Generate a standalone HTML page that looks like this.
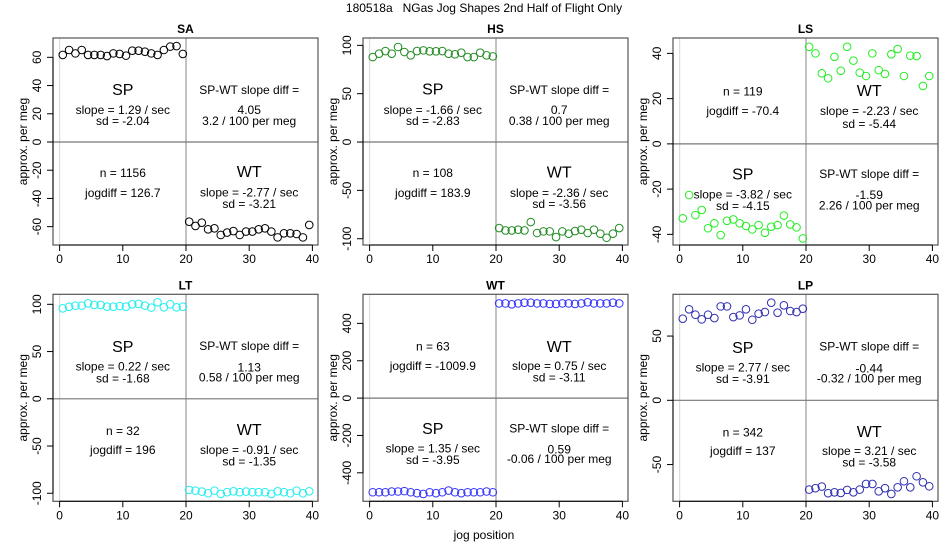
<!DOCTYPE html>
<html><head><meta charset="utf-8"><style>
html,body{margin:0;padding:0;background:#fff;}
svg{display:block;font-family:"Liberation Sans",Arial,sans-serif;}
</style></head><body>
<svg id="chart" width="950" height="550" viewBox="0 0 950 550" xmlns="http://www.w3.org/2000/svg">
<text x="484" y="12" text-anchor="middle" font-size="12" fill="#000">180518a&#160;&#160;&#160;NGas Jog Shapes 2nd Half of Flight Only</text>
<text x="484" y="539" text-anchor="middle" font-size="12" fill="#000">jog position</text>
</svg>
<script>
const xTicks = [0, 10, 20, 30, 40];
const panelNames = ["SA", "HS", "LS", "LT", "WT", "LP"];
const saSP = [61.7,65.2,62.8,65.2,61.7,61.7,61.7,60.9,62.8,62.4,61.2,64.7,64.7,64,62.8,61.7,65.2,67.6,68,62.4];
const saWT = [-56.5,-59.5,-57.2,-61.9,-61.2,-65.9,-64.2,-63.1,-65.9,-63.5,-63.5,-61.9,-61.2,-63.5,-67.6,-64.7,-64.7,-65.2,-67.6,-58.8];
const hsSP = [87.9,91.4,94.1,91.4,98.3,93.1,89.7,94.1,94.8,93.8,93.8,94.1,91.4,90.7,92.4,87.9,87.9,92.4,89.7,88.6];
const hsWT = [-89,-91.4,-91.4,-90.7,-91.4,-82.8,-94.1,-92.4,-92.4,-98.3,-92.4,-94.8,-92.1,-90.7,-94.1,-90.7,-94.8,-99,-94.8,-89];
const lsSP = [-32.9,-22.6,-31.5,-29.2,-37.3,-35.1,-40.3,-34,-33.4,-35.1,-36.3,-37.8,-35.9,-39.3,-36.6,-35.9,-31.7,-35.6,-36.9,-41.8];
const lsWT = [42.9,40,31.2,29,38.5,32.3,42.9,36.8,31.5,30,40,32.6,30.9,39.6,41.9,30,39,38.8,25.6,30];
const ltSP = [95.8,97.5,98.6,98.6,101.1,99.3,99.3,97.5,97.5,98.2,97.5,100,100.4,98.6,96.5,102.1,96.8,100,96.8,97.5];
const ltWT = [-96.5,-97.2,-98.2,-100,-97.2,-100.7,-98.9,-97.9,-98.9,-98.2,-98.9,-98.9,-98.9,-100.7,-97.9,-98.9,-100,-97.2,-100,-97.9];
const wtSP = [-504,-504,-504,-500,-500,-498,-504,-509,-513,-504,-509,-504,-495,-504,-509,-504,-504,-504,-500,-504];
const wtWT = [507,507,502,507,511,511,507,507,504,504,507,507,504,507,513,507,507,507,511,507];
const lpSP = [63.5,70.8,66.6,63,66.6,64,73.1,73.1,64.8,66.1,70.8,62.7,67.4,68.7,76,68.2,73.9,69.5,68.7,71.3];
const lpWT = [-69.5,-68.4,-67.1,-72.3,-71.6,-72.1,-69.7,-71.6,-69.5,-65.1,-65.1,-70.8,-68.4,-72.9,-67.7,-63,-67.7,-59.1,-63.8,-66.9];
const saTicks = [-60,-40,-20,0,20,40,60];
const hsTicks = [-100,-50,0,50,100];
const lsTicks = [-40,-20,0,20,40];
const ltTicks = [-100,-50,0,50,100];
const wtTicks = [-400,-200,0,200,400];
const lpTicks = [-50,0,50];

const NS = "http://www.w3.org/2000/svg";
const svg = document.getElementById("chart");
function mk(tag, attrs, parent) {
  const e = document.createElementNS(NS, tag);
  for (const k in attrs) e.setAttribute(k, attrs[k]);
  (parent || svg).appendChild(e);
  return e;
}
function txt(x, y, s, size, parent, extra) {
  const t = mk("text", Object.assign({x: x, y: y, "font-size": size, "text-anchor": "middle", "dominant-baseline": "central", fill: "#000"}, extra || {}), parent);
  t.textContent = s;
  return t;
}
const W = 265, H = 207;
const panels = [
  {name: panelNames[0], L: 53, T: 38, ymax: 73.7, ymin: -73, ticks: saTicks, sp: saSP, wt: saWT, col: "#000000",
   texts: [["SP",10,90.7,16],["slope = 1.29 / sec",10,110,12],["sd = -2.04",10,121,12],["SP-WT slope diff =",30,90,12],["4.05",30,110,12],["3.2 / 100 per meg",30,121,12],["n = 1156",10,173,12],["jogdiff = 126.7",10,193,12],["WT",30,172.7,16],["slope = -2.77 / sec",30,192.7,12],["sd = -3.21",30,204,12]]},
  {name: panelNames[1], L: 363, T: 38, ymax: 107.6, ymin: -106.5, ticks: hsTicks, sp: hsSP, wt: hsWT, col: "#228B22",
   texts: [["SP",10,90,16],["slope = -1.66 / sec",10,110,12],["sd = -2.83",10,121,12],["SP-WT slope diff =",30,90,12],["0.7",30,110,12],["0.38 / 100 per meg",30,121,12],["n = 108",10,173,12],["jogdiff = 183.9",10,193,12],["WT",30,173,16],["slope = -2.36 / sec",30,193,12],["sd = -3.56",30,204,12]]},
  {name: panelNames[2], L: 673, T: 38, ymax: 46.8, ymin: -44.7, ticks: lsTicks, sp: lsSP, wt: lsWT, col: "#22ee22",
   texts: [["n = 119",10,91.7,12],["jogdiff = -70.4",10,111,12],["WT",30,91.7,16],["slope = -2.23 / sec",30,111,12],["sd = -5.44",30,124,12],["SP",10,175,16],["slope = -3.82 / sec",10,194.3,12],["sd = -4.15",10,206,12],["SP-WT slope diff =",30,174,12],["-1.59",30,195,12],["2.26 / 100 per meg",30,205.7,12]]},
  {name: panelNames[3], L: 53, T: 294.3, ymax: 110.6, ymin: -108.5, ticks: ltTicks, sp: ltSP, wt: ltWT, col: "#22eeee",
   texts: [["SP",10,347.3,16],["slope = 0.22 / sec",10,366.7,12],["sd = -1.68",10,378.3,12],["SP-WT slope diff =",30,346,12],["1.13",30,367.3,12],["0.58 / 100 per meg",30,377.3,12],["n = 32",10,431,12],["jogdiff = 196",10,450,12],["WT",30,430.7,16],["slope = -0.91 / sec",30,450,12],["sd = -1.35",30,461.7,12]]},
  {name: panelNames[4], L: 363, T: 294.3, ymax: 555.7, ymin: -552.5, ticks: wtTicks, sp: wtSP, wt: wtWT, col: "#3333ff",
   texts: [["n = 63",10,346.7,12],["jogdiff = -1009.9",10,366,12],["WT",30,347.3,16],["slope = 0.75 / sec",30,366,12],["sd = -3.11",30,377.3,12],["SP",10,429.3,16],["slope = 1.35 / sec",10,448.3,12],["sd = -3.95",10,460,12],["SP-WT slope diff =",30,428.3,12],["0.59",30,449.3,12],["-0.06 / 100 per meg",30,459,12]]},
  {name: panelNames[5], L: 673, T: 294.3, ymax: 82.5, ymin: -78.6, ticks: lpTicks, sp: lpSP, wt: lpWT, col: "#2e2eb0",
   texts: [["SP",10,348.3,16],["slope = 2.77 / sec",10,367.3,12],["sd = -3.91",10,379,12],["SP-WT slope diff =",30,346.7,12],["-0.44",30,368.3,12],["-0.32 / 100 per meg",30,378.3,12],["n = 342",10,432.3,12],["jogdiff = 137",10,451,12],["WT",30,432.3,16],["slope = 3.21 / sec",30,451,12],["sd = -3.58",30,462.7,12]]}
];

panels.forEach(function(p) {
  const g = mk("g", {});
  
  
  const xs = function(v) { return p.L + 6.6 + v * 6.32; };
  const ys = function(v) { return p.T + (p.ymax - v) / (p.ymax - p.ymin) * H; };
  const tt = txt(p.L + W / 2, p.T - 9, p.name, 12, g, {"font-weight": "bold"});
  
  
  const z = mk("line", {x1: xs(0), x2: xs(0), y1: p.T, y2: p.T + H, stroke: "#dddddd", "stroke-width": 1.2}, g);
  
  
  const v = mk("line", {x1: xs(20), x2: xs(20), y1: p.T, y2: p.T + H, stroke: "#999999", "stroke-width": 1.2}, g);
  
  
  const h = mk("line", {x1: p.L, x2: p.L + W, y1: ys(0), y2: ys(0), stroke: "#777777", "stroke-width": 1.2}, g);
  
  
  const b = mk("rect", {x: p.L, y: p.T, width: W, height: H, fill: "none", stroke: "#555555", "stroke-width": 1.2}, g);
  
  
  xTicks.forEach(function(t) {
    const tk = mk("line", {x1: xs(t), x2: xs(t), y1: p.T + H, y2: p.T + H + 6, stroke: "#000", "stroke-width": 1}, g);
    
    
    const tl = txt(xs(t), p.T + H + 14, String(t), 12, g);
    
    
  });
  const xl = mk("line", {x1: xs(0), x2: xs(40), y1: p.T + H, y2: p.T + H, stroke: "#000"}, g);
  
  
  p.ticks.forEach(function(t) {
    const tk = mk("line", {x1: p.L - 6, x2: p.L, y1: ys(t), y2: ys(t), stroke: "#000", "stroke-width": 1}, g);
    
    
    const tl = txt(0, 0, String(t), 12, g, {transform: "translate(" + (p.L - 16) + "," + ys(t) + ") rotate(-90)"});
    
    
  });
  const yl = mk("line", {x1: p.L, x2: p.L, y1: ys(p.ticks[0]), y2: ys(p.ticks[p.ticks.length - 1]), stroke: "#000"}, g);
  
  
  const yt = txt(0, 0, "approx. per meg", 12, g, {transform: "translate(" + (p.L - 30) + "," + (p.T + H / 2) + ") rotate(-90)"});
  
  
  p.texts.forEach(function(a) {
    const t = txt(xs(a[1]), a[2], a[0], a[3], g);
    
    
  });
  p.sp.forEach(function(val, i) {
    const c = mk("circle", {cx: xs(i + 0.5), cy: ys(val), r: 3.8, fill: "none", stroke: p.col, "stroke-width": 1}, g);
    
    
  });
  p.wt.forEach(function(val, i) {
    const c = mk("circle", {cx: xs(i + 20.5), cy: ys(val), r: 3.8, fill: "none", stroke: p.col, "stroke-width": 1}, g);
    
    
  });
});
</script>
</body></html>
